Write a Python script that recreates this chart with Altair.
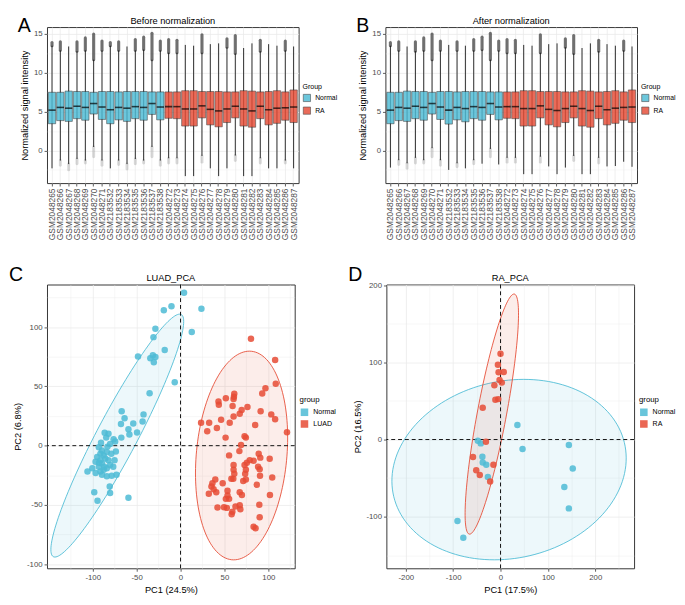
import altair as alt
import numpy as np
import pandas as pd

FONT = "Liberation Sans"
CYAN = "#4DBBD5"
RED = "#E64B35"

# ---------------- Panels A / B : boxplots ----------------
samples = ["GSM2048265", "GSM2048266", "GSM2048267", "GSM2048268", "GSM2048269", "GSM2048270",
           "GSM2048271", "GSM2183532", "GSM2183533", "GSM2183534", "GSM2183535", "GSM2183536",
           "GSM2183537", "GSM2183538", "GSM2048272", "GSM2048273", "GSM2048274", "GSM2048275",
           "GSM2048276", "GSM2048277", "GSM2048278", "GSM2048279", "GSM2048280", "GSM2048281",
           "GSM2048282", "GSM2048283", "GSM2048284", "GSM2048285", "GSM2048286", "GSM2048287"]
sample_group = ["Normal"] * 14 + ["RA"] * 16

a_q3 = [7.50, 7.50, 7.65, 7.60, 7.60, 7.50, 7.60, 7.60, 7.55, 7.60, 7.60, 7.60, 7.55, 7.55,
        7.55, 7.55, 7.70, 7.70, 7.60, 7.60, 7.60, 7.55, 7.55, 7.70, 7.65, 7.55, 7.60, 7.70, 7.55, 7.80]
a_med = [5.20, 5.55, 5.45, 5.70, 5.55, 6.05, 5.60, 5.25, 5.55, 5.45, 5.65, 5.55, 6.05, 5.60,
         5.65, 5.65, 5.35, 5.35, 5.75, 5.30, 5.10, 5.35, 5.70, 5.35, 5.10, 5.70, 5.25, 5.45, 5.50, 5.60]
a_q1 = [3.45, 3.85, 3.75, 4.10, 3.90, 4.70, 4.00, 3.45, 3.95, 3.75, 4.10, 3.90, 4.65, 3.95,
        4.15, 4.10, 3.15, 3.15, 4.20, 3.30, 3.05, 3.60, 4.20, 3.15, 3.00, 4.10, 3.30, 3.50, 3.90, 3.60]
a_hi = [13.5, 12.9, 13.4, 12.8, 12.9, 11.7, 12.9, 13.5, 12.9, 13.4, 12.9, 13.0, 11.7, 12.9,
        12.6, 12.6, 13.6, 13.5, 12.6, 13.7, 13.8, 13.3, 12.5, 13.2, 13.8, 12.8, 13.7, 13.5, 12.9, 13.4]
a_out_hi = [13.9, 14.0, 13.4, 14.0, 14.5, 15.0, 14.1, 13.9, 14.0, 13.4, 14.3, 14.6, 15.1, 14.1,
            14.3, 14.2, 13.6, 13.5, 14.9, 13.7, 13.8, 14.4, 14.8, 13.2, 13.8, 14.2, 13.7, 13.5, 14.1, 13.4]
a_lo = [-2.3, -1.3, -1.75, -1.1, -1.3, 0.45, -1.3, -2.3, -1.3, -1.75, -1.1, -1.3, 0.45, -1.3,
        -1.0, -1.0, -3.3, -3.3, -0.7, -2.3, -3.3, -2.3, -0.65, -3.3, -3.3, -1.0, -2.3, -2.3, -1.3, -2.3]
a_out_lo = [-2.3, -1.9, -2.5, -1.7, -1.6, -0.8, -1.9, -2.3, -1.8, -2.4, -1.7, -1.6, -0.8, -1.9,
            -1.6, -1.6, -3.3, -3.3, -1.5, -2.3, -3.3, -2.3, -1.3, -3.3, -3.3, -1.6, -2.3, -2.3, -1.6, -2.3]

b_q3 = [7.50, 7.50, 7.65, 7.60, 7.60, 7.50, 7.60, 7.60, 7.55, 7.60, 7.60, 7.60, 7.55, 7.55,
        7.55, 7.55, 7.70, 7.70, 7.60, 7.60, 7.60, 7.55, 7.55, 7.70, 7.65, 7.55, 7.60, 7.70, 7.55, 7.80]
b_med = [5.20, 5.55, 5.45, 5.70, 5.55, 6.05, 5.60, 5.20, 5.55, 5.40, 5.65, 5.55, 6.05, 5.60,
         5.65, 5.65, 5.40, 5.40, 5.75, 5.30, 5.15, 5.40, 5.70, 5.40, 5.15, 5.70, 5.25, 5.45, 5.55, 5.60]
b_q1 = [3.45, 3.85, 3.75, 4.10, 3.90, 4.70, 4.00, 3.40, 3.95, 3.70, 4.10, 3.90, 4.65, 3.95,
        4.15, 4.10, 3.15, 3.15, 4.20, 3.30, 3.05, 3.60, 4.20, 3.15, 3.00, 4.10, 3.30, 3.50, 3.90, 3.60]
b_hi = [13.5, 12.9, 13.4, 12.8, 12.9, 11.7, 12.9, 13.6, 12.9, 13.5, 12.9, 13.0, 11.7, 12.9,
        12.6, 12.6, 13.6, 13.5, 12.6, 13.7, 13.8, 13.3, 12.5, 13.2, 13.8, 12.8, 13.7, 13.5, 12.9, 13.4]
b_out_hi = [13.9, 14.0, 13.4, 14.0, 14.5, 15.0, 14.1, 13.6, 14.0, 13.5, 14.3, 14.6, 15.1, 14.1,
            14.3, 14.2, 13.6, 13.5, 14.9, 13.7, 13.8, 14.4, 14.8, 13.2, 13.8, 14.2, 13.7, 13.5, 14.1, 13.4]
b_lo = [-2.2, -1.25, -1.65, -0.95, -1.25, 0.3, -1.25, -2.5, -1.65, -2.3, -1.25, -1.7, 0.2, -1.8,
        -0.95, -0.95, -3.05, -3.05, -0.8, -2.05, -3.05, -2.2, -0.7, -3.05, -3.05, -0.95, -2.05, -2.0, -1.45, -2.1]
b_out_lo = [-2.2, -1.8, -2.3, -1.6, -1.6, -0.8, -1.9, -2.5, -2.1, -2.3, -1.7, -1.7, -0.8, -1.8,
            -1.5, -1.5, -3.05, -3.05, -1.5, -2.05, -3.05, -2.2, -1.3, -3.05, -3.05, -1.6, -2.05, -2.0, -1.45, -2.1]

box_y_ticks = [-2.5, 0, 2.5, 5, 7.5, 10, 12.5, 15]

# ---------------- Panel C : LUAD PCA ----------------
c_normal_x = [4.0, -10.3, -19.0, 23.8, 12.8, -28.6, -30.8, -18.0, -48.4, -31.5, -34.4, -28.6, -30.4, -6.6,
              -35.2, -67.0, -63.7, -42.1, -67.8, -53.8, -43.2, -59.3, -58.2, -49.5, -86.4, -82.0, -84.6,
              -76.2, -74.4, -67.4, -90.5, -73.6,
              -93.0, -89.4, -91.2, -87.5, -94.9, -83.9, -85.7, -91.2, -96.7, -89.4, -82.1, -93.0, -100.4,
              -87.5, -83.9, -80.2, -76.6, -91.2, -96.7, -80.2, -83.2, -86.8, -92.7, -78.8, -75.1, -83.9, -89.4,
              -105.9, -78.4, -72.9, -80.6, -80.2, -98.2, -94.5, -59.3]
c_normal_y = [129.0, 117.7, 114.2, 115.6, 96.0, 98.7, 91.6, 80.8, 75.3, 76.4, 73.7, 74.8, 70.4, 53.6,
              44.3, 29.1, 23.1, 26.4, 18.2, 18.8, 20.4, 13.9, 9.5, 11.1, 10.9, 10.1, 6.8,
              5.4, 3.5, 6.8, 2.4, -4.9,
              -1.4, -4.1, -6.8, -8.2, -9.5, -5.4, -10.9, -12.2, -13.6, -15.0, -12.2, -17.7, -19.0,
              -20.4, -19.0, -16.3, -17.7, -21.8, -23.1, 1.4, -0.8, -17.7, -14.4, -6.8, -12.2, -25.8, -24.5,
              -21.8, -25.3, -24.5, -34.5, -40.0, -39.4, -46.5, -44.0]
c_luad_x = [80.2, 107.7, 108.4, 96.7, 93.0, 61.2, 60.8, 51.6, 43.2, 43.6, 60.4, 59.3, 69.6, 76.2, 67.4,
            60.4, 91.2, 103.3, 107.7, 23.4, 32.6, 41.4, 46.2, 56.0, 85.0, 30.4, 51.3, 72.9, 74.4, 121.2,
            68.9, 67.0, 55.3, 89.0, 90.8, 101.5, 78.8, 83.2, 75.5, 72.9, 88.3, 90.1, 60.4, 60.4, 61.2,
            74.4, 73.6, 74.4, 71.4, 60.1, 57.9, 90.5, 104.4, 39.6, 36.3, 48.0, 35.2, 37.7, 40.7, 32.2,
            86.8, 53.5, 53.5, 51.6, 55.3, 67.4, 69.9, 101.8, 89.7, 42.1, 49.5, 52.7, 59.0, 58.2, 62.6,
            67.4, 68.1, 90.1, 83.2, 85.4]
c_luad_y = [90.3, 72.3, 52.2, 48.4, 44.0, 43.8, 41.3, 40.0, 37.2, 34.5, 39.4, 33.4, 30.2, 32.6, 26.9,
            24.7, 29.1, 26.4, 22.3, 19.3, 19.3, 15.0, 21.8, 19.3, 17.4, 12.2, 6.8, 7.9, 6.8, 11.4,
            0.5, -4.6, -8.2, -6.8, -10.1, -11.1, -12.2, -12.8, -14.4, -16.3, -17.7, -19.8, -16.3, -20.4, -23.7,
            -20.4, -23.7, -28.5, -29.9, -28.0, -28.0, -25.3, -26.9, -28.5, -31.8, -31.8, -34.5, -36.7, -39.4, -40.5,
            -32.9, -38.1, -42.1, -44.9, -44.9, -39.4, -41.6, -41.6, -49.8, -52.2, -52.0, -52.5, -55.7, -57.9, -51.4,
            -50.3, -53.6, -60.4, -68.5, -69.6]

# ---------------- Panel D : RA PCA ----------------
d_normal_x = [35.6, 46.5, -47.9, -41.7, -38.3, -37.6, -30.1, -26.7, 144.3, 152.5, 134.7, 144.3, -90.9, -78.6]
d_normal_y = [18.9, -12.2, -1.7, -5.0, -22.2, -29.8, -32.7, -48.6, -7.1, -37.7, -61.6, -89.3, -105.7, -127.5]
d_ra_x = [0.0, -5.5, -4.1, 6.8, -2.1, 2.7, -13.0, -4.8, -10.9, -37.6, -30.8, -58.1, -51.3, -43.8, -15.0, -21.9]
d_ra_y = [111.1, 96.9, 87.2, 87.6, 77.1, 73.8, 70.4, 52.4, 51.6, 41.1, -2.9, -22.6, -39.8, -46.1, -32.7, -54.5]

# 95% ellipses: centre, conjugate semi-diameters (data units)
c_ell_normal = dict(center=(-72.0, 8.5), a=(71.0, 102.5), b=(26.0, 0.0))
c_ell_luad = dict(center=(69.5, -8.3), a=(7.0, 88.0), b=(52.0, 3.3))
d_ell_normal = dict(center=(18.0, -39.0), a=(31.1, 117.0), b=(245.4, 0.0))
d_ell_ra = dict(center=(-18.4, 33.0), a=(46.9, 155.7), b=(31.3, 0.0))

c_x_ticks = [-125, -100, -75, -50, -25, 0, 25, 50, 75, 100, 125]
c_y_ticks = [-100, -75, -50, -25, 0, 25, 50, 75, 100, 125]
d_x_ticks = [-200, -150, -100, -50, 0, 50, 100, 150, 200, 250]
d_y_ticks = [-150, -100, -50, 0, 50, 100, 150, 200]


def major_axis(values, step, title, **kw):
    test = f"abs(datum.value % {step}) < 1e-9"
    return alt.Axis(
        values=values,
        title=title,
        labelExpr=f"{test} ? '' + datum.value : ''",
        tickOpacity={"condition": {"test": test, "value": 1}, "value": 0},
        gridWidth={"condition": {"test": test, "value": 0.8}, "value": 0.4},
        **kw,
    )


def text_layer(txt, x, y, size, align):
    return alt.Chart(pd.DataFrame({"t": [txt]})).mark_text(
        text=txt, align=align, baseline="top", fontSize=size, font=FONT, color="#000",
        x=x, y=y)


def box_panel(q1, med, q3, lo, hi, out_hi, out_lo, title, letter, W, H):
    df = pd.DataFrame(dict(sample=samples, group=sample_group, q1=q1, med=med, q3=q3,
                           lo=lo, hi=hi, out_hi=out_hi, out_lo=out_lo))
    step = W / (len(samples) + 0.2)
    xenc = alt.X("sample:N", sort=samples, title=None,
                 scale=alt.Scale(paddingInner=0, paddingOuter=0.1),
                 axis=alt.Axis(labelAngle=-90, labelFontSize=8.6, labelPadding=2, labelOverlap=False,
                               grid=True, gridWidth=0.8, bandPosition=0.5))
    ysc = alt.Scale(domain=[-4.2, 15.9], nice=False, zero=False)
    yax = major_axis(box_y_ticks, 5, "Normalized signal intensity")
    base = alt.Chart(df)
    out_up = base.transform_filter("datum.out_hi > datum.hi").mark_rule(
        color="#000", strokeWidth=3.2, opacity=0.55, strokeCap="round").encode(
        x=xenc, y=alt.Y("hi:Q", scale=ysc, axis=yax), y2="out_hi:Q")
    out_dn = base.transform_filter("datum.out_lo < datum.lo").mark_rule(
        color="#555", strokeWidth=3.0, opacity=0.22, strokeCap="round").encode(
        x=xenc, y=alt.Y("lo:Q", scale=ysc, axis=yax), y2="out_lo:Q")
    whisk = base.mark_rule(color="#111", strokeWidth=0.9).encode(
        x=xenc, y=alt.Y("lo:Q", scale=ysc, axis=yax), y2="hi:Q")
    box = base.mark_bar(width=alt.RelativeBandSize(0.88), stroke="#222", strokeWidth=0.6, opacity=0.82).encode(
        x=xenc, y=alt.Y("q1:Q", scale=ysc, axis=yax), y2="q3:Q",
        color=alt.Color("group:N", scale=alt.Scale(domain=["Normal", "RA"], range=[CYAN, RED]),
                        legend=alt.Legend(title="Group", orient="none", legendX=W + 4, legendY=58,
                                          symbolType="square", symbolSize=55, symbolStrokeColor="#222",
                                          symbolStrokeWidth=0.6, labelFontSize=7, titleFontSize=7.2,
                                          rowPadding=2, titlePadding=3)))
    med_t = base.mark_tick(color="#000", thickness=1.6, size=step * 0.88).encode(
        x=xenc, y=alt.Y("med:Q", scale=ysc, axis=yax))
    lay = alt.layer(out_up, out_dn, whisk, box, med_t,
                    text_layer(letter, -30, -11, 20, "left"),
                    text_layer(title, W / 2, -11, 9.5, "center")).properties(width=W, height=H)
    return lay


def ellipse_frame(e, n=145):
    t = np.linspace(0, 2 * np.pi, n)
    cx, cy = e["center"]
    ax, ay = e["a"]
    bx, by = e["b"]
    return pd.DataFrame({"ex": cx + np.cos(t) * ax + np.sin(t) * bx,
                         "ey": cy + np.cos(t) * ay + np.sin(t) * by,
                         "i": np.arange(n)})


def pca_panel(xn, yn, xd, yd, gname, e_n, e_d, xdom, ydom, xt, yt, step, title, letter,
              xtitle, ytitle, W, H, legY):
    xsc = alt.Scale(domain=xdom, nice=False, zero=False)
    ysc = alt.Scale(domain=ydom, nice=False, zero=False)
    xax = major_axis(xt, step, xtitle)
    yax = major_axis(yt, step, ytitle)

    def ell(e, color):
        return alt.Chart(ellipse_frame(e)).mark_line(
            interpolate="linear-closed", stroke=color, strokeWidth=0.9, fill=color,
            fillOpacity=0.1, clip=True).encode(
            x=alt.X("ex:Q", scale=xsc, axis=xax), y=alt.Y("ey:Q", scale=ysc, axis=yax),
            order="i:Q")

    zero = pd.DataFrame({"z": [0]})
    vline = alt.Chart(zero).mark_rule(color="#111", strokeWidth=1, strokeDash=[4, 3]).encode(
        x=alt.X("z:Q", scale=xsc, axis=xax))
    hline = alt.Chart(zero).mark_rule(color="#111", strokeWidth=1, strokeDash=[4, 3]).encode(
        y=alt.Y("z:Q", scale=ysc, axis=yax))
    pts = pd.DataFrame({"PC1": list(xn) + list(xd), "PC2": list(yn) + list(yd),
                        "group": ["Normal"] * len(xn) + [gname] * len(xd)})
    pl = alt.Chart(pts).mark_circle(size=44, opacity=0.85, clip=True).encode(
        x=alt.X("PC1:Q", scale=xsc, axis=xax), y=alt.Y("PC2:Q", scale=ysc, axis=yax),
        color=alt.Color("group:N", scale=alt.Scale(domain=["Normal", gname], range=[CYAN, RED]),
                        legend=alt.Legend(title="group", orient="none", legendX=W + 5, legendY=legY,
                                          symbolType="square", symbolSize=60, labelFontSize=7.2,
                                          titleFontSize=8, rowPadding=3, titlePadding=4,
                                          symbolOpacity=0.85)))
    lay = alt.layer(ell(e_n, CYAN), ell(e_d, RED), vline, hline, pl,
                    text_layer(letter, -39, -20, 20, "left"),
                    text_layer(title, W / 2, -11.5, 9.5, "center")).properties(width=W, height=H)
    return lay


WA, HA = 258, 160
WC, HC = 254, 291

pA = box_panel(a_q1, a_med, a_q3, a_lo, a_hi, a_out_hi, a_out_lo, "Before normalization", "A", WA, HA)
pB = box_panel(b_q1, b_med, b_q3, b_lo, b_hi, b_out_hi, b_out_lo, "After normalization", "B", WA, HA)
pC = pca_panel(c_normal_x, c_normal_y, c_luad_x, c_luad_y, "LUAD", c_ell_normal, c_ell_luad,
               [-152, 130], [-103.5, 136], c_x_ticks, c_y_ticks, 50, "LUAD_PCA", "C",
               "PC1 (24.5%)", "PC2 (6.8%)", WC, HC, 114)
pD = pca_panel(d_normal_x, d_normal_y, d_ra_x, d_ra_y, "RA", d_ell_normal, d_ell_ra,
               [-241, 282], [-167, 201], d_x_ticks, d_y_ticks, 100, "RA_PCA", "D",
               "PC1 (17.5%)", "PC2 (16.5%)", WC, HC, 114)

top = alt.hconcat(pA, pB, spacing=17).resolve_scale(color="independent").resolve_legend(color="independent")
bottom = alt.hconcat(pC, pD, spacing=10).resolve_scale(color="independent").resolve_legend(color="independent")

chart = alt.vconcat(top, bottom, spacing=24).resolve_scale(
    color="independent").resolve_legend(color="independent").properties(
    padding={"left": 0, "top": 0, "right": 0, "bottom": 0},
    autosize=alt.AutoSizeParams(type="pad", contains="padding")).configure(
    font=FONT, background="white", padding=0).configure_view(
    stroke="#333333", strokeWidth=1).configure_axis(
    labelFont=FONT, titleFont=FONT, labelFontSize=8, titleFontSize=9.5, labelColor="#4D4D4D",
    titleColor="#000", titleFontWeight="normal", tickColor="#333333", tickSize=3, tickWidth=0.8,
    domain=False, gridColor="#EBEBEB", labelPadding=2, titlePadding=4).configure_legend(
    labelFont=FONT, titleFont=FONT, titleFontWeight="normal", labelColor="#000",
    titleColor="#000").configure_title(font=FONT, fontWeight="normal", color="#000")

chart.save("out.html", embed_options={"renderer": "svg", "actions": False})
